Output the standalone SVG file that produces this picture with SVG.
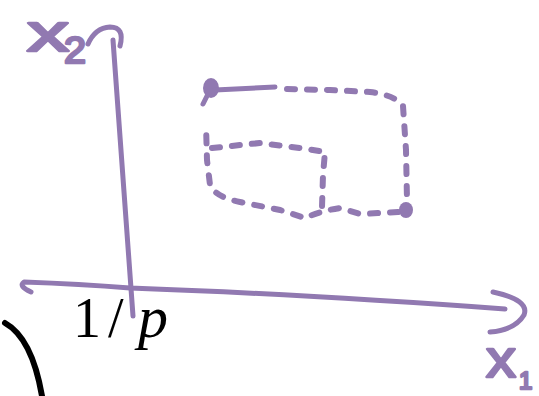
<svg xmlns="http://www.w3.org/2000/svg" width="539" height="396" viewBox="0 0 539 396">
<style>
.ink{fill:none;stroke:#9179b1;stroke-width:5;stroke-linecap:round;stroke-linejoin:round}
.dash{fill:none;stroke:#9179b1;stroke-width:6;stroke-linecap:round;stroke-dasharray:8 12}
.lbl{font-family:"Liberation Sans",Arial,sans-serif;fill:#9179b1;stroke:#9179b1;stroke-width:2.5;stroke-linejoin:round}
.math{font-family:"Liberation Serif","Times New Roman",serif;fill:#000}
</style>
<rect width="539" height="396" fill="#fff"/>
<g id="connectors">
<path class="ink" d="M88,44 Q95,28 110,27 Q125,27 120,46"/>
<path class="ink" d="M113,40 L133,316"/>
<path class="ink" d="M31,292 Q18,286 24,282 Q80,284 130,288 Q300,294 505,309"/>
<path class="ink" d="M493,292 Q530,300 524,315 Q515,330 490,332"/>
</g>
<g id="region">
<ellipse cx="211" cy="88" rx="8" ry="10" fill="#9179b1"/>
<path class="ink" d="M207,96 L203,104"/>
<path class="ink" d="M215,90 L275,87"/>
<path class="dash" d="M287,89 L330,90 L370,92 Q395,95 403,106 L406,150 L407,200"/>
<ellipse cx="406" cy="210" rx="7" ry="8" fill="#9179b1"/>
<path class="dash" d="M398,212 L360,214 L340,208 Q320,211 305,218 L280,210 L240,202 Q215,197 210,185 L207,160 L206,125"/>
<path class="dash" d="M212,148 L260,143 L300,148 L325,152 L323,175 L322,207"/>
</g>
<g id="label-x2">
<text class="lbl" x="27" y="51" font-size="54" textLength="42" lengthAdjust="spacingAndGlyphs">x</text>
<text class="lbl" x="64" y="63" font-size="36" textLength="22" lengthAdjust="spacingAndGlyphs">2</text>
</g>
<g id="label-x1">
<text class="lbl" x="486" y="377" font-size="54" textLength="30" lengthAdjust="spacingAndGlyphs">x</text>
<text class="lbl" x="519" y="389" font-size="24">1</text>
</g>
<g id="label-p">
<text class="math" y="337" font-size="56"><tspan x="73">1</tspan><tspan x="108">/</tspan><tspan x="138" font-size="60" font-style="italic">p</tspan></text>
</g>
<g id="curve">
<path d="M5,323 Q32,338 42,396" fill="none" stroke="#000" stroke-width="6" stroke-linecap="round"/>
</g>
</svg>
